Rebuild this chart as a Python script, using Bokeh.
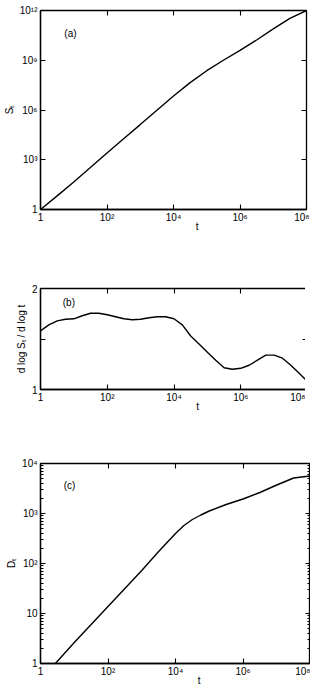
from bokeh.plotting import figure
from bokeh.layouts import column
from bokeh.models import LogAxis, LinearAxis, FixedTicker, Label, Range1d
from bokeh.embed import file_html
from bokeh.resources import INLINE

# ---------------- data ----------------
# panel (a): S_t vs t (log10 values)
a_logt = [0, 0.5, 1.0, 1.5, 2.0, 2.5, 3.0, 3.5, 4.0, 4.5, 5.0, 5.5, 6.0, 6.5, 7.0, 7.5, 8.0]
a_logS = [0, 0.82, 1.66, 2.53, 3.41, 4.27, 5.12, 5.98, 6.84, 7.65, 8.37, 9.0, 9.6, 10.22, 10.89, 11.53, 12.0]

# panel (b): d log S_t / d log t vs t
b_logt = [0, 0.25, 0.5, 0.75, 1.0, 1.25, 1.5, 1.75, 2.0, 2.25, 2.5, 2.75, 3.0, 3.25, 3.5, 3.75,
          4.0, 4.25, 4.5, 4.75, 5.0, 5.25, 5.5, 5.75, 6.0, 6.25, 6.5, 6.75, 7.0, 7.25, 7.5, 7.75, 8.0]
b_slope = [1.58, 1.64, 1.68, 1.695, 1.70, 1.73, 1.755, 1.755, 1.74, 1.72, 1.70, 1.69, 1.695, 1.71, 1.72, 1.72,
           1.70, 1.64, 1.53, 1.45, 1.37, 1.29, 1.215, 1.20, 1.21, 1.24, 1.29, 1.34, 1.34, 1.31, 1.24, 1.16, 1.08]

# panel (c): D_t vs t (log10 values)
c_logt = [0.44, 1.0, 1.5, 2.0, 2.5, 3.0, 3.5, 4.0, 4.25, 4.5, 4.75, 5.0, 5.5, 6.0, 6.5, 7.0, 7.5, 8.0]
c_logD = [0.0, 0.42, 0.78, 1.14, 1.50, 1.86, 2.24, 2.60, 2.76, 2.88, 2.97, 3.05, 3.18, 3.29, 3.42, 3.57, 3.71, 3.75]

# ticks
x_ticks = [1, 1e2, 1e4, 1e6, 1e8]
x_tick_labels = ["1", "10²", "10⁴", "10⁶", "10⁸"]
a_y_ticks = [1, 1e3, 1e6, 1e9, 1e12]
a_y_tick_labels = ["1", "10³", "10⁶", "10⁹", "10¹²"]
b_y_ticks = [1, 1.5, 2]
b_y_tick_labels = ["1", "", "2"]
c_y_ticks = [1, 10, 1e2, 1e3, 1e4]
c_y_tick_labels = ["1", "10", "10²", "10³", "10⁴"]
c_y_minor = [m * 10 ** k for k in range(4) for m in range(2, 10)]

FONT = "Liberation Sans"
TICK_FS = "10px"
# x label "t" sits right of centre in the original: pad with no-break spaces
T_LABEL = "\u00a0" * 17 + "t"


def style(ax, show_labels=True):
    ax.major_tick_in = 5
    ax.major_tick_out = 0
    ax.minor_tick_in = 3
    ax.minor_tick_out = 0
    ax.axis_line_color = "black"
    ax.axis_line_width = 1.3
    ax.major_tick_line_color = "black"
    ax.major_tick_line_width = 1.1
    ax.minor_tick_line_color = "black"
    ax.major_label_text_font = FONT
    ax.major_label_text_color = "black"
    ax.axis_label_text_font = FONT
    ax.axis_label_text_font_style = "normal"
    ax.axis_label_text_font_size = "10px"
    ax.axis_label_text_color = "black"
    ax.axis_label_standoff = 2
    if show_labels:
        ax.major_label_text_font_size = TICK_FS
        ax.major_label_standoff = 3
    else:
        ax.axis_line_color = None
        ax.major_label_text_font_size = "1px"
        ax.major_label_text_alpha = 0
        ax.major_label_standoff = 0


def make_fig(ylog, yr, fw, fh, bl, bt, bb, yticks, ylabels, yminor, ylabel, panel, plab_x, plab_y):
    p = figure(
        x_axis_type="log", y_axis_type="log" if ylog else "linear",
        x_range=Range1d(1, 1e8), y_range=Range1d(*yr),
        frame_width=fw, frame_height=fh,
        min_border_left=bl, min_border_right=3, min_border_top=bt, min_border_bottom=bb,
        output_backend="svg", toolbar_location=None,
        background_fill_color="white", border_fill_color="white",
    )
    p.grid.visible = False
    p.outline_line_color = "black"
    p.outline_line_width = 1.3

    xt = FixedTicker(ticks=x_ticks, minor_ticks=[])
    yt = FixedTicker(ticks=yticks, minor_ticks=yminor)

    p.xaxis[0].ticker = xt
    p.xaxis[0].major_label_overrides = {float(k): v for k, v in zip(x_ticks, x_tick_labels)}
    p.yaxis[0].ticker = yt
    p.yaxis[0].major_label_overrides = {float(k): v for k, v in zip(yticks, ylabels)}
    p.yaxis[0].axis_label = ylabel
    style(p.xaxis[0])
    style(p.yaxis[0])
    p.xaxis[0].axis_label = T_LABEL
    p.xaxis[0].major_label_standoff = 2
    p.xaxis[0].axis_label_standoff = -5

    AxX = LogAxis
    AxY = LogAxis if ylog else LinearAxis
    top = AxX(ticker=FixedTicker(ticks=x_ticks, minor_ticks=[]))
    right = AxY(ticker=FixedTicker(ticks=yticks, minor_ticks=yminor))
    style(top, False)
    style(right, False)
    p.add_layout(top, "above")
    p.add_layout(right, "right")

    p.add_layout(Label(x=plab_x, y=plab_y, text=panel, text_font=FONT, text_font_size="10px",
                       text_color="black", text_align="center", text_baseline="middle"))
    return p


pa = make_fig(True, (1, 1e12), 266, 199, 40, 10, 41, a_y_ticks, a_y_tick_labels, [], "Sₜ",
              "(a)", 10 ** 0.9, 10 ** 10.6)
pa.line([10 ** v for v in a_logt], [10 ** v for v in a_logS], line_color="black", line_width=1.4)

pb = make_fig(False, (1, 2), 267, 101, 35, 38, 51, b_y_ticks, b_y_tick_labels, [], "d log Sₜ / d log t",
              "(b)", 10 ** 0.85, 1.86)
pb.line([10 ** v for v in b_logt], b_slope, line_color="black", line_width=1.4)

pc = make_fig(True, (1, 1e4), 270, 200, 35, 23, 25, c_y_ticks, c_y_tick_labels, c_y_minor, "Dₜ",
              "(c)", 10 ** 0.86, 10 ** 3.56)
pc.line([10 ** v for v in c_logt], [10 ** v for v in c_logD], line_color="black", line_width=1.4)

layout = column(pa, pb, pc, spacing=0)
open("out.html", "w").write(file_html(layout, INLINE))
